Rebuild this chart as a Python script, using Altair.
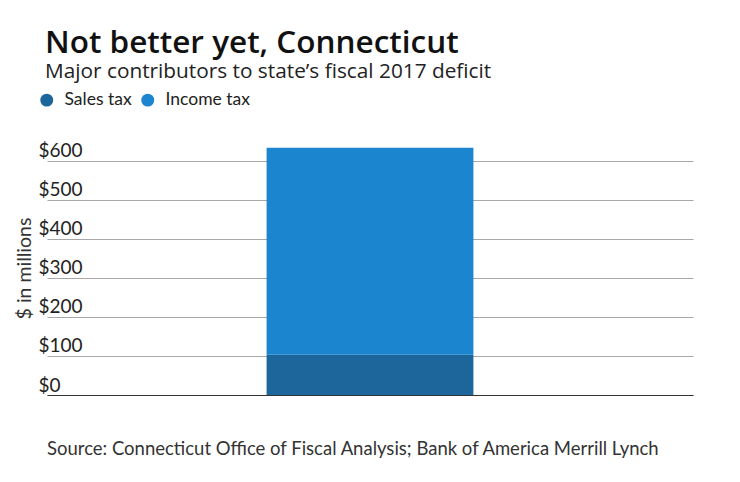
import altair as alt
import pandas as pd

categories = ["Sales tax", "Income tax"]
values = [103, 530]
order = [0, 1]
bar_group = ["FY2017", "FY2017"]
tick_values = [0, 100, 200, 300, 400, 500, 600]
source_text = ["Source: Connecticut Office of Fiscal Analysis; Bank of America Merrill Lynch"]

df = pd.DataFrame({"group": bar_group, "tax": categories, "value": values, "ord": order})
src = pd.DataFrame({"text": source_text})

FONT = "Lato"
TFONT = "Open Sans"

bars = alt.Chart(df).mark_bar().encode(
    x=alt.X("group:N", title=None,
            scale=alt.Scale(paddingInner=0.515, paddingOuter=0.515),
            axis=alt.Axis(labels=False, ticks=False, grid=False, domain=True,
                          domainColor="#333333", domainWidth=1.2)),
    y=alt.Y("value:Q", stack="zero", title="$ in millions",
            scale=alt.Scale(domain=[0, 650], nice=False),
            axis=alt.Axis(values=tick_values, grid=True, gridColor="#a8a8a8", gridWidth=1,
                          domain=False, ticks=False, labelAlign="left", labelBaseline="alphabetic",
                          labelPadding=9, labelOffset=-4, labelFontSize=19, labelColor="#222222",
                          labelFont=FONT, labelExpr="'$' + datum.value",
                          titleFont=FONT, titleFontSize=19.5, titleFontWeight="normal",
                          titleColor="#333333", titleX=-23, titleY=127, titleAngle=-90,
                          titleAlign="center", titleBaseline="middle")),
    color=alt.Color("tax:N", scale=alt.Scale(domain=categories, range=["#1d669c", "#1b86cf"]),
                    legend=alt.Legend(orient="none", legendX=-9, legendY=-50, direction="horizontal",
                                      title=None, symbolType="circle", symbolSize=165,
                                      symbolStrokeWidth=0, labelFontSize=17.5, labelFont=FONT,
                                      labelColor="#222222", labelOffset=9, columnPadding=7,
                                      padding=0)),
    order=alt.Order("ord:Q"),
)

footer = alt.Chart(src).mark_text(align="left", baseline="alphabetic", fontSize=18.5,
                                  font=FONT, color="#333333").encode(
    x=alt.value(0), y=alt.value(314), text="text:N"
)

chart = alt.layer(bars, footer).properties(
    width=646, height=254,
    autosize=alt.AutoSizeParams(type="none"),
    padding={"left": 39, "top": 133, "right": 39, "bottom": 79},
    title=alt.Title("Not better yet, Connecticut",
                    subtitle="Major contributors to state’s fiscal 2017 deficit",
                    anchor="start", frame="group", dx=-2, offset=9,
                    font=TFONT, fontSize=31.5, fontWeight=600, color="#111111",
                    subtitleFont=TFONT, subtitleFontSize=20.8, subtitleColor="#222222",
                    subtitlePadding=3),
).configure_view(stroke=None)

chart.save("out.html", embed_options={"renderer": "svg", "actions": False})
